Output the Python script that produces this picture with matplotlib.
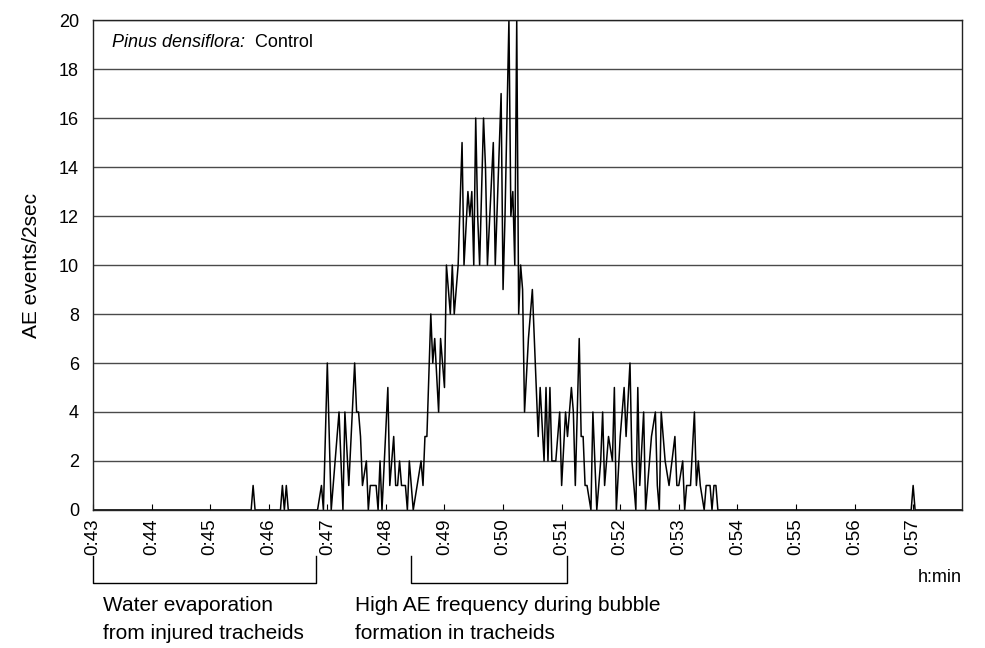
import matplotlib
matplotlib.use("Agg")
import matplotlib.pyplot as plt
from matplotlib.transforms import blended_transform_factory

plt.rcParams["font.family"] = ["Liberation Sans", "DejaVu Sans"]

# time in seconds after 0:43:00, AE events per 2 sec (vertices)
t_sec = [
    0, 162, 164, 166, 192, 194, 196, 198, 200, 230, 234, 236, 240, 244,
    248, 252, 256, 258, 262, 268, 270, 272, 274, 276, 280, 282, 284, 290,
    292, 294, 296, 302, 304, 308, 310, 312, 314, 316, 320, 322, 324, 328,
    332, 336, 338, 340, 342, 346, 348, 350, 354, 356, 360, 362, 366, 368,
    370, 374, 378, 380, 384, 386, 388, 390, 392, 394, 396, 400, 402, 404,
    410, 412, 418, 420, 422, 426, 428, 430, 432, 434, 436, 438, 440, 442,
    446, 450, 454, 456, 458, 462, 464, 466, 468, 470, 474, 478, 480, 484,
    486, 490, 492, 494, 498, 500, 502, 504, 506, 510, 512, 516, 520, 522,
    524, 528, 532, 534, 536, 540, 544, 546, 550, 552, 556, 558, 560, 564,
    566, 568, 572, 576, 578, 580, 582, 586, 590, 596, 598, 600, 604, 606,
    608, 612, 616, 618, 620, 622, 626, 628, 632, 634, 636, 638, 640, 838,
    840, 842, 890,
]
ae_counts = [
    0, 0, 1, 0, 0, 1, 0, 1, 0, 0, 1, 0, 6, 0,
    2, 4, 0, 4, 1, 6, 4, 4, 3, 1, 2, 0, 1, 1,
    0, 2, 0, 5, 1, 3, 1, 1, 2, 1, 1, 0, 2, 0,
    1, 2, 1, 3, 3, 8, 6, 7, 4, 7, 5, 10, 8, 10,
    8, 10, 15, 10, 13, 12, 13, 10, 16, 12, 10, 16, 14, 10,
    15, 10, 17, 9, 12, 20, 12, 13, 10, 20, 8, 10, 9, 4,
    7, 9, 5, 3, 5, 2, 5, 2, 5, 2, 2, 4, 1, 4,
    3, 5, 4, 1, 7, 3, 3, 1, 1, 0, 4, 0, 2, 4,
    1, 3, 2, 5, 0, 3, 5, 3, 6, 2, 0, 5, 1, 4,
    0, 1, 3, 4, 1, 0, 4, 2, 1, 3, 1, 1, 2, 0,
    1, 1, 4, 1, 2, 1, 0, 1, 1, 0, 1, 1, 0, 0,
    1, 0, 0,
]

tick_sec = list(range(0, 841, 60))
tick_labels = ["0:%d" % m for m in range(43, 58)]
y_ticks = list(range(0, 21, 2))


def main():
    fig = plt.figure(figsize=(9.85, 6.48), dpi=100)
    ax = fig.add_axes([0.0944, 0.213, 0.8822, 0.756])

    ax.plot(t_sec, ae_counts, color="black", lw=1.1)

    ax.set_xlim(0, 890)
    ax.set_ylim(0, 20)
    ax.set_yticks(y_ticks)
    ax.yaxis.grid(True, color="#4a4a4a", lw=1.0)
    ax.set_axisbelow(True)
    ax.set_xticks(tick_sec)
    ax.set_xticklabels(tick_labels, rotation=90, fontsize=13.5)
    ax.tick_params(axis="x", direction="in", length=4, pad=6, width=0.8)
    ax.tick_params(axis="y", length=0, pad=10, labelsize=13)
    for sp in ax.spines.values():
        sp.set_color("#222222")
        sp.set_linewidth(1.0)

    ax.set_ylabel("AE events/2sec", fontsize=15, labelpad=13)

    t1 = ax.text(0.022, 0.955, "Pinus densiflora:", transform=ax.transAxes,
                 fontsize=13, fontstyle="italic", va="center", ha="left")
    ax.annotate("  Control", xy=(1, 0.5), xycoords=t1, fontsize=13,
                va="center", ha="left")

    ax.text(1.0, -0.138, "h:min", transform=ax.transAxes, fontsize=13,
            ha="right", va="center")

    # brackets under the axis
    tr = blended_transform_factory(ax.transData, ax.transAxes)
    for x0, x1 in [(0, 228), (326, 486)]:
        ax.plot([x0, x0, x1, x1], [-0.094, -0.149, -0.149, -0.094],
                color="black", lw=1.0, transform=tr, clip_on=False)

    ax.text(10, -0.196, "Water evaporation", transform=tr, fontsize=15,
            ha="left", va="center")
    ax.text(10, -0.253, "from injured tracheids", transform=tr, fontsize=15,
            ha="left", va="center")
    ax.text(268, -0.196, "High AE frequency during bubble", transform=tr,
            fontsize=15, ha="left", va="center")
    ax.text(268, -0.253, "formation in tracheids", transform=tr, fontsize=15,
            ha="left", va="center")

    fig.savefig("out.png", dpi=100)


if __name__ == "__main__":
    main()
